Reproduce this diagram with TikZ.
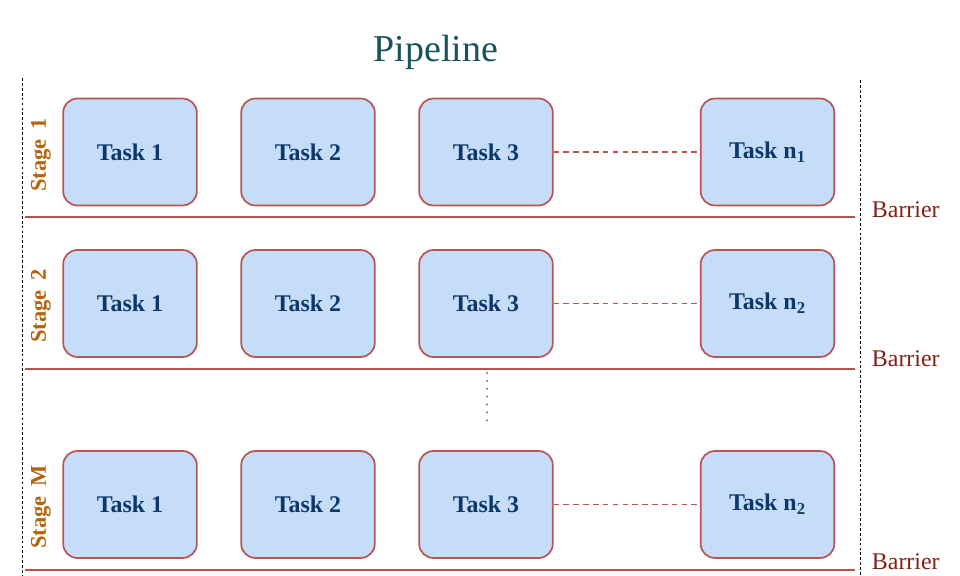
\documentclass[tikz,border=0pt]{standalone}
\usepackage{fontspec}
\setmainfont{Liberation Serif}
\usetikzlibrary{positioning}

\definecolor{linered}{RGB}{184,84,80}
\definecolor{taskfill}{RGB}{198,221,249}
\definecolor{taskblue}{RGB}{14,55,105}
\definecolor{stageorange}{RGB}{182,100,10}
\definecolor{barrierred}{RGB}{128,32,22}
\definecolor{titleteal}{RGB}{24,82,92}

\tikzset{
  task/.style={draw=linered, fill=taskfill, line width=1.2pt, rounded corners=10pt,
    minimum width=95pt, minimum height=76pt, text=taskblue,
    font=\bfseries\fontsize{17}{19}\selectfont},
  stage/.style={rotate=90, text=stageorange, font=\bfseries\fontsize{16}{18}\selectfont},
  barrier/.style={anchor=base west, text=barrierred, font=\fontsize{17}{19}\selectfont},
  bar/.style={draw=linered, line width=1.3pt},
  gap/.style={draw=linered, line width=1.1pt, dash pattern=on 4pt off 3pt},
}

\begin{document}
\begin{tikzpicture}[x=0.025cm, y=-0.025cm]
  \useasboundingbox (0,0) rectangle (960,576);

  % title
  \node[text=titleteal, font=\fontsize{27}{30}\selectfont] (title) at (436,52) {Pipeline};

  % left and right borders
  \coordinate (lt) at (22,78);
  \coordinate (lb) at (22,576);
  \coordinate (rt) at (860,80);
  \coordinate (rb) at (860,576);
  \draw[thin, dash pattern=on 2pt off 1.5pt] (lt) -- (lb);
  \draw[thin, dash pattern=on 2pt off 1.5pt] (rt) -- (rb);

  % stage 1
  \node[stage] (s1) at (41,155) {Stage\hspace{0.45em}1};
  \node[task] (t11) at (130,152) {Task 1};
  \node[task] (t12) at (308,152) {Task 2};
  \node[task] (t13) at (486,152) {Task 3};
  \node[task] (t1n) at (767.5,152) {Task n\textsubscript{1}};
  \draw[gap] (t13) -- (t1n);

  % stage 2
  \node[stage] (s2) at (41,306) {Stage\hspace{0.45em}2};
  \node[task] (t21) at (130,303.5) {Task 1};
  \node[task] (t22) at (308,303.5) {Task 2};
  \node[task] (t23) at (486,303.5) {Task 3};
  \node[task] (t2n) at (767.5,303.5) {Task n\textsubscript{2}};
  \draw[gap] (t23) -- (t2n);

  % stage M
  \node[stage] (sm) at (41,507) {Stage\hspace{0.45em}M};
  \node[task] (tm1) at (130,504.5) {Task 1};
  \node[task] (tm2) at (308,504.5) {Task 2};
  \node[task] (tm3) at (486,504.5) {Task 3};
  \node[task] (tmn) at (767.5,504.5) {Task n\textsubscript{2}};
  \draw[gap] (tm3) -- (tmn);

  % barriers
  \coordinate (b1l) at (25,217);
  \coordinate (b1r) at (855,217);
  \coordinate (b2l) at (25,369);
  \coordinate (b2r) at (855,369);
  \coordinate (b3l) at (25,570);
  \coordinate (b3r) at (855,570);
  \draw[bar] (b1l) -- (b1r);
  \draw[bar] (b2l) -- (b2r);
  \draw[bar] (b3l) -- (b3r);
  \node[barrier] (l1) at (867,218) {Barrier};
  \node[barrier] (l2) at (867,367) {Barrier};
  \node[barrier] (l3) at (867,569) {Barrier};

  % dots between stage 2 and stage M
  \coordinate (dtop) at (487,373);
  \coordinate (dbot) at (487,428);
  \draw[linered, line width=1.6pt, line cap=round, dash pattern=on 0pt off 5.6pt] (dtop) -- (dbot);
\end{tikzpicture}
\end{document}
